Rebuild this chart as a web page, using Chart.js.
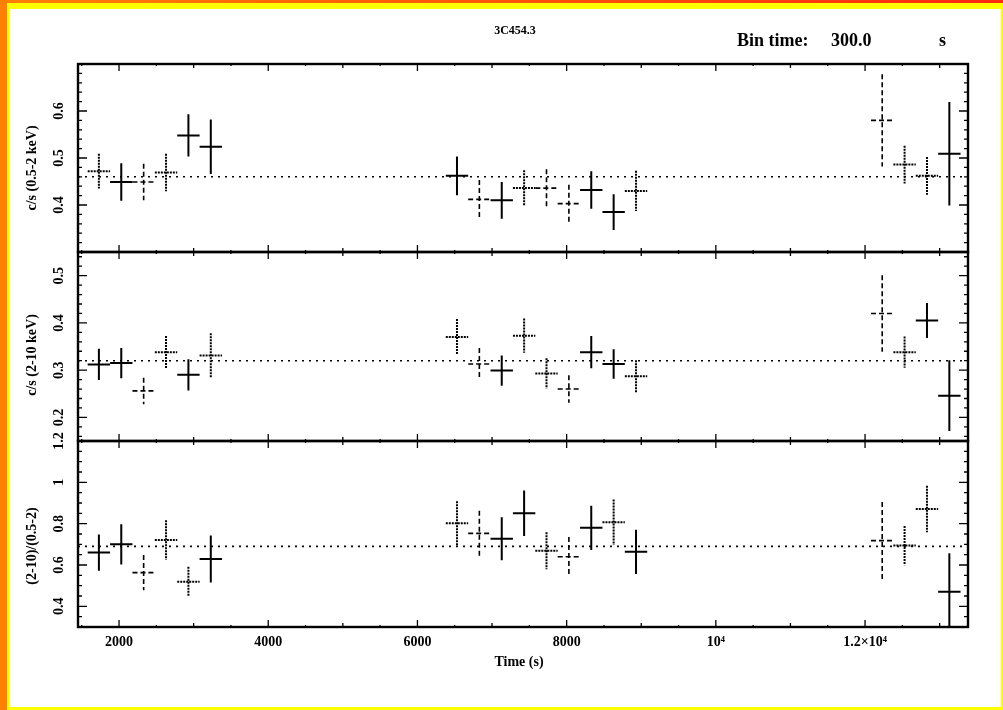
<!DOCTYPE html>
<html>
<head>
<meta charset="utf-8">
<script src="https://cdn.jsdelivr.net/npm/chart.js@4.4.0/dist/chart.umd.min.js"></script>
<style>
  html, body { margin: 0; padding: 0; background: #fff; }
  canvas { display: block; }
</style>
</head>
<body>
<canvas id="lc" width="1003" height="710"></canvas>
<script>
// bin centres (s), bin time 300 s
const binTimes = [1730, 2030, 2330, 2630, 2930, 3230,
                  6530, 6830, 7130, 7430, 7730, 8030, 8330, 8630, 8930,
                  12230, 12530, 12830, 13130];
const halfBin = 150;

// c/s (0.5-2 keV)
const softRate = [0.472, 0.449, 0.449, 0.469, 0.548, 0.524,
                  0.462, 0.412, 0.410, 0.436, 0.436, 0.403, 0.432, 0.385, 0.430,
                  0.580, 0.486, 0.462, 0.509];
const softErr = [0.037, 0.040, 0.039, 0.040, 0.045, 0.058,
                 0.041, 0.041, 0.039, 0.038, 0.040, 0.040, 0.040, 0.038, 0.043,
                 0.098, 0.040, 0.040, 0.110];
const softMean = 0.46;

// c/s (2-10 keV)
const hardRate = [0.312, 0.315, 0.256, 0.338, 0.290, 0.331,
                  0.370, 0.313, 0.299, 0.373, 0.293, 0.260, 0.338, 0.313, 0.287,
                  0.420, 0.338, 0.405, 0.246];
const hardErr = [0.033, 0.032, 0.028, 0.034, 0.033, 0.047,
                 0.038, 0.034, 0.032, 0.036, 0.032, 0.029, 0.034, 0.031, 0.034,
                 0.081, 0.033, 0.037, 0.075];
const hardMean = 0.32;

// (2-10)/(0.5-2)
const ratio = [0.660, 0.700, 0.563, 0.721, 0.519, 0.629,
               0.802, 0.753, 0.727, 0.850, 0.669, 0.640, 0.780, 0.807, 0.664,
               0.718, 0.694, 0.871, 0.471];
const ratioErr = [0.088, 0.097, 0.085, 0.095, 0.073, 0.114,
                  0.107, 0.110, 0.104, 0.110, 0.090, 0.095, 0.107, 0.110, 0.107,
                  0.187, 0.095, 0.113, 0.186];
const ratioMean = 0.69;

// tick labels
const xTickValues = [2000, 4000, 6000, 8000, 10000, 12000];
const xTickLabels = ['2000', '4000', '6000', '8000', '10\u2074', '1.2\u00d710\u2074'];
const softTicks = [0.4, 0.5, 0.6];
const hardTicks = [0.2, 0.3, 0.4, 0.5];
const ratioTicks = [0.4, 0.6, 0.8, 1, 1.2];

// line style of each cross (s solid, d dashed, t dotted)
const softStyle = ['t','s','d','t','s','s', 's','d','s','t','d','d','s','s','t', 'd','t','t','s'];
const hardStyle = ['s','s','d','t','s','t', 't','d','s','t','t','d','s','s','t', 'd','t','s','s'];
const ratioStyle = ['s','s','d','t','t','s', 't','d','s','s','t','d','s','t','s', 'd','t','t','s'];

const lineStyles = {
  s: { w: 2, dash: [] },
  d: { w: 1.6, dash: [5, 3] },
  t: { w: 2, dash: [2, 1] }
};

const panels = [
  { axis: 'ySoft', rate: softRate, err: softErr, style: softStyle, ticks: softTicks, minor: 0.02, major: 0.1, title: 'c/s (0.5-2 keV)', titleY: 168 },
  { axis: 'yHard', rate: hardRate, err: hardErr, style: hardStyle, ticks: hardTicks, minor: 0.02, major: 0.1, title: 'c/s (2-10 keV)', titleY: 355 },
  { axis: 'yRatio', rate: ratio, err: ratioErr, style: ratioStyle, ticks: ratioTicks, minor: 0.05, major: 0.2, title: '(2-10)/(0.5-2)', titleY: 546 }
];

const xMin = 1450, xMax = 13380;
const serif = '"Liberation Serif", "DejaVu Serif", serif';

function meanLine(axis, m) {
  return {
    type: 'line', yAxisID: axis,
    data: [{ x: xMin, y: m }, { x: xMax, y: m }],
    borderColor: '#000', borderWidth: 1.6, borderDash: [2, 5],
    pointRadius: 0
  };
}
function points(axis, vals) {
  return {
    type: 'scatter', yAxisID: axis,
    data: binTimes.map((t, i) => ({ x: t, y: vals[i] })),
    pointRadius: 0
  };
}

const framePlugin = {
  id: 'frame',
  beforeDraw(chart) {
    const ctx = chart.ctx, W = chart.width, H = chart.height;
    ctx.save();
    ctx.fillStyle = '#fff';
    ctx.fillRect(0, 0, W, H);
    // page border
    ctx.fillStyle = '#ffff00';
    ctx.fillRect(0, 0, W, 9);
    ctx.fillRect(0, 0, 10, H);
    ctx.fillRect(0, H - 3, W, 3);
    ctx.fillRect(W - 2, 0, 2, H);
    const g = ctx.createLinearGradient(0, 0, W, 0);
    g.addColorStop(0, '#ff8000');
    g.addColorStop(1, '#ff2a10');
    ctx.fillStyle = g;
    ctx.fillRect(0, 0, W, 3);
    ctx.fillStyle = '#ff8000';
    ctx.fillRect(0, 0, 7, H);
    ctx.restore();
  },
  afterDatasetsDraw(chart) {
    const ctx = chart.ctx, xs = chart.scales.x, area = chart.chartArea;
    ctx.save();
    // error crosses
    panels.forEach(p => {
      const ys = chart.scales[p.axis];
      ctx.save();
      ctx.beginPath();
      ctx.rect(area.left, ys.top, area.right - area.left, ys.bottom - ys.top);
      ctx.clip();
      ctx.strokeStyle = '#000';
      p.rate.forEach((v, i) => {
        const st = lineStyles[p.style[i]];
        const cx = xs.getPixelForValue(binTimes[i]);
        const cy = ys.getPixelForValue(v);
        ctx.lineWidth = st.w;
        ctx.setLineDash(st.dash);
        ctx.beginPath();
        ctx.moveTo(xs.getPixelForValue(binTimes[i] - halfBin), cy);
        ctx.lineTo(xs.getPixelForValue(binTimes[i] + halfBin), cy);
        ctx.moveTo(cx, ys.getPixelForValue(v + p.err[i]));
        ctx.lineTo(cx, ys.getPixelForValue(v - p.err[i]));
        ctx.stroke();
      });
      ctx.restore();
    });

    // frames and ticks
    ctx.strokeStyle = '#000';
    ctx.setLineDash([]);
    ctx.lineWidth = 1.3;
    panels.forEach(p => {
      const ys = chart.scales[p.axis];
      ctx.beginPath();
      // x ticks on top and bottom of panel
      for (let v = 1500; v <= xMax; v += 500) {
        const px = xs.getPixelForValue(v);
        if (px < area.left) continue;
        const len = v % 2000 === 0 ? 7 : (v % 1000 === 0 ? 4 : 2);
        ctx.moveTo(px, ys.top); ctx.lineTo(px, ys.top + len);
        ctx.moveTo(px, ys.bottom); ctx.lineTo(px, ys.bottom - len);
      }
      // y ticks on left and right
      const start = Math.ceil(ys.min / p.minor - 1e-6) * p.minor;
      for (let v = start; v <= ys.max + 1e-9; v += p.minor) {
        const py = ys.getPixelForValue(v);
        const isMajor = Math.abs(v / p.major - Math.round(v / p.major)) < 1e-6;
        const len = isMajor ? 9 : 4;
        ctx.moveTo(area.left, py); ctx.lineTo(area.left + len, py);
        ctx.moveTo(area.right, py); ctx.lineTo(area.right - len, py);
      }
      ctx.stroke();
      ctx.lineWidth = 2.4;
      ctx.strokeRect(area.left, ys.top, area.right - area.left, ys.bottom - ys.top);
      ctx.lineWidth = 1.3;

      // rotated tick labels
      ctx.fillStyle = '#000';
      ctx.font = 'bold 14px ' + serif;
      ctx.textAlign = 'center';
      ctx.textBaseline = 'middle';
      p.ticks.forEach(v => {
        ctx.save();
        ctx.translate(59, ys.getPixelForValue(v));
        ctx.rotate(-Math.PI / 2);
        ctx.fillText(String(v), 0, 0);
        ctx.restore();
      });
      // axis title
      ctx.save();
      ctx.translate(32, p.titleY);
      ctx.rotate(-Math.PI / 2);
      ctx.font = 'bold 14px ' + serif;
      ctx.fillText(p.title, 0, 0);
      ctx.restore();
    });

    // texts
    ctx.fillStyle = '#000';
    ctx.textAlign = 'center';
    ctx.textBaseline = 'middle';
    ctx.font = 'bold 14px ' + serif;
    ctx.fillText('Time (s)', (area.left + area.right) / 2 - 4, 662);
    ctx.font = 'bold 12px ' + serif;
    ctx.fillText('3C454.3', 515, 31);
    ctx.font = 'bold 18px ' + serif;
    ctx.textAlign = 'left';
    ctx.fillText('Bin time:', 737, 41);
    ctx.fillText('300.0', 831, 41);
    ctx.fillText('s', 939, 41);
    ctx.restore();
  }
};

function yScale(min, max, weight) {
  return {
    type: 'linear', position: 'left', stack: 'panels', stackWeight: weight,
    min: min, max: max,
    ticks: { display: false },
    grid: { display: false },
    border: { display: false },
    afterFit(s) { s.width = 78; }
  };
}

new Chart(document.getElementById('lc'), {
  type: 'scatter',
  data: {
    datasets: [
      meanLine('ySoft', softMean), points('ySoft', softRate),
      meanLine('yHard', hardMean), points('yHard', hardRate),
      meanLine('yRatio', ratioMean), points('yRatio', ratio)
    ]
  },
  options: {
    responsive: false,
    animation: false,
    devicePixelRatio: 1,
    layout: { padding: { left: 0, top: 64, right: 35, bottom: 0 } },
    plugins: { legend: { display: false }, tooltip: { enabled: false } },
    scales: {
      x: {
        type: 'linear', position: 'bottom', min: xMin, max: xMax,
        grid: { display: false, drawTicks: false },
        border: { display: false },
        afterBuildTicks(s) { s.ticks = xTickValues.map(v => ({ value: v })); },
        afterFit(s) { s.height = 83; },
        ticks: {
          padding: 7, color: '#000', maxRotation: 0,
          font: { family: serif, size: 14, weight: 'bold' },
          callback(v) { const i = xTickValues.indexOf(v); return i >= 0 ? xTickLabels[i] : ''; }
        }
      },
      yRatio: yScale(0.3, 1.2, 186),
      yHard: yScale(0.15, 0.55, 189),
      ySoft: yScale(0.30, 0.70, 188)
    }
  },
  plugins: [framePlugin]
});
</script>
</body>
</html>
